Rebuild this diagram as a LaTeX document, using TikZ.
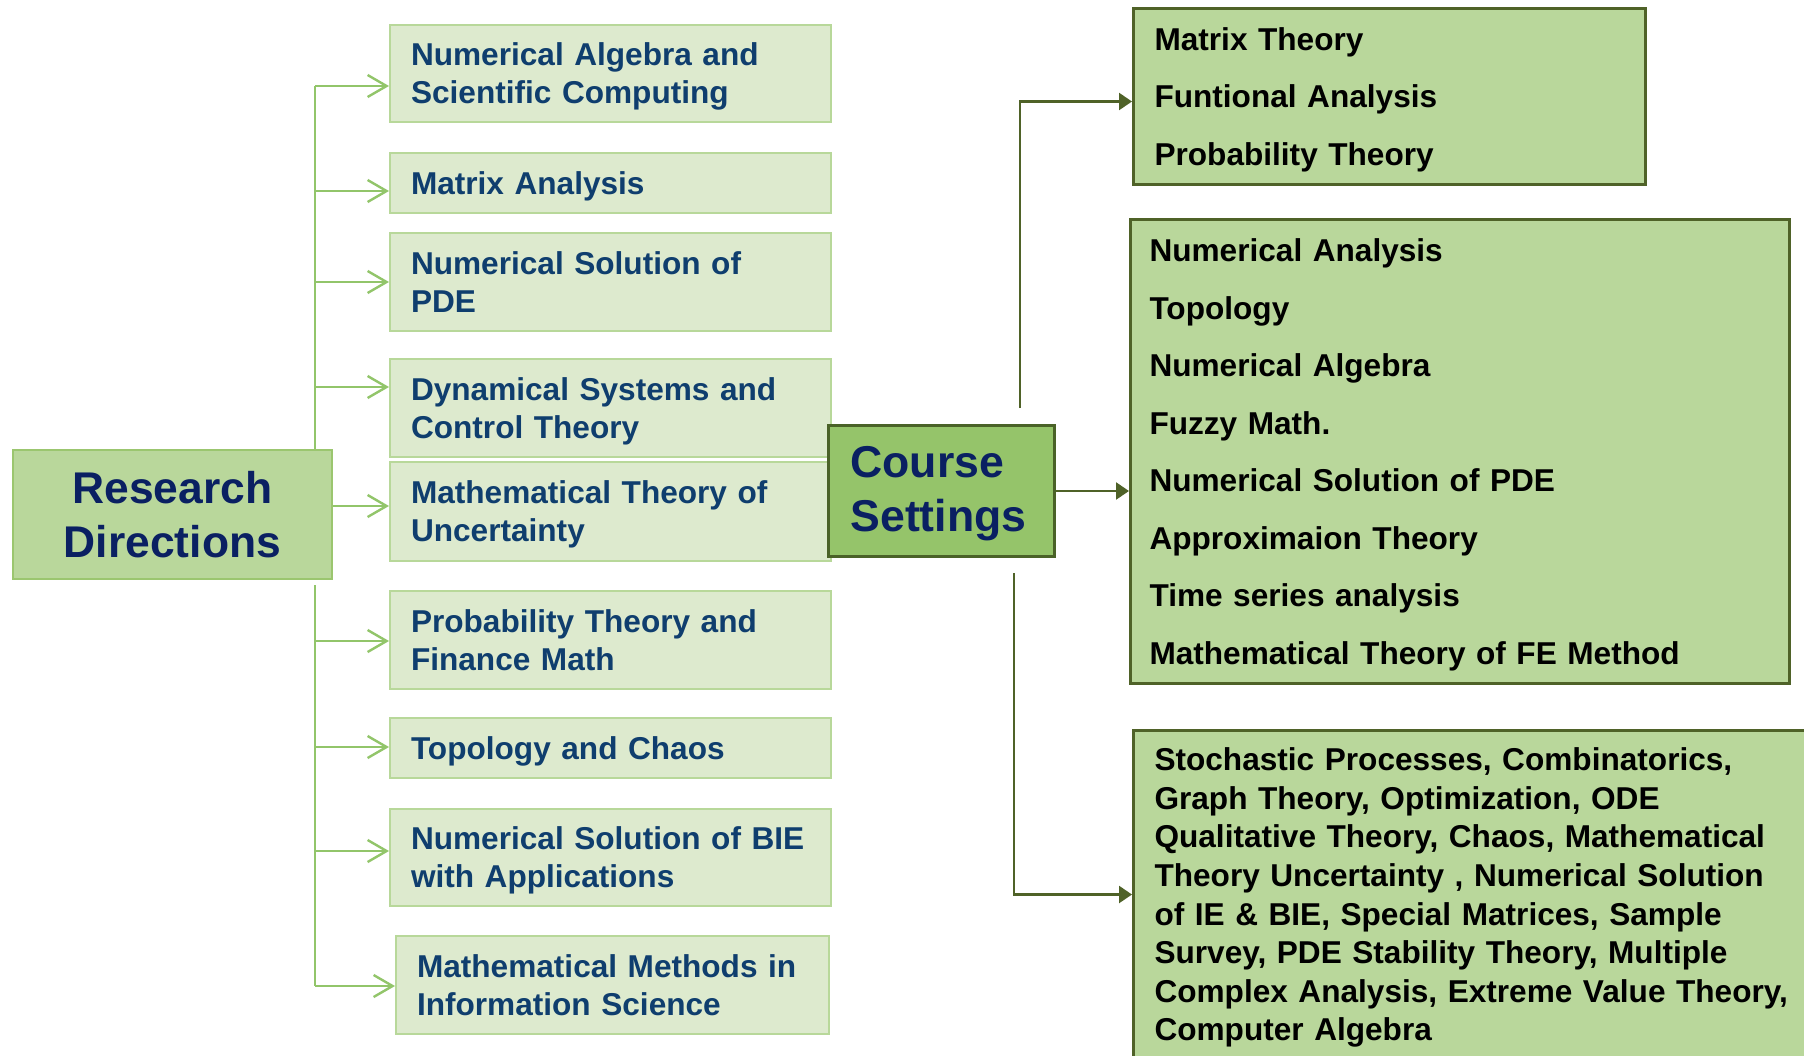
\documentclass[tikz,border=0pt]{standalone}
\usepackage{fontspec}
\setmainfont{Liberation Sans}
\usetikzlibrary{arrows.meta,calc}
\definecolor{lbfill}{HTML}{DDEACE}
\definecolor{lbdraw}{HTML}{B8D89A}
\definecolor{ltext}{HTML}{0F3E6E}
\definecolor{navy}{HTML}{0A2062}
\definecolor{rdfill}{HTML}{B9D79B}
\definecolor{rddraw}{HTML}{9BC66F}
\definecolor{csfill}{HTML}{95C46A}
\definecolor{csdraw}{HTML}{4A6228}
\definecolor{rfill}{HTML}{B9D79B}
\definecolor{rdraw}{HTML}{4F6228}
\definecolor{garrowc}{HTML}{92C56A}
\begin{document}
\begin{tikzpicture}[x=0.5pt,y=-0.5pt,
  struts/.style={execute at begin node={\rule{0pt}{14.8pt}}, execute at end node={\rule[-3.5pt]{0pt}{0pt}}},
  lbox/.style={draw=lbdraw, fill=lbfill, line width=1pt, anchor=north west, align=left,
    inner ysep=0pt, inner xsep=10.5pt, text width=199.5pt, text=ltext, struts,
    font=\fontsize{15.8}{19}\selectfont\bfseries},
  rdbox/.style={draw=rddraw, fill=rdfill, line width=1pt, anchor=north west, align=center,
    inner sep=0pt, minimum width=159.5pt, minimum height=64.5pt, text=navy,
    font=\fontsize{22.2}{27}\selectfont\bfseries},
  csbox/.style={draw=csdraw, fill=csfill, line width=1.5pt, anchor=north west, align=left,
    inner ysep=0pt, inner xsep=11pt, text width=91pt, minimum height=65.5pt, text=navy,
    execute at begin node={\rule{0pt}{18.5pt}}, execute at end node={\rule[-5pt]{0pt}{0pt}},
    font=\fontsize{22.3}{27}\selectfont\bfseries},
  rbox/.style={draw=rdraw, fill=rfill, line width=1.5pt, anchor=north west, align=left,
    inner ysep=0pt, text=black, struts},
  garrow/.style={draw=garrowc, line width=1.2pt, -{Straight Barb[length=9.5pt,width=11pt,line width=1.2pt]}},
  gline/.style={draw=garrowc, line width=1.1pt},
  darrow/.style={draw=rdraw, line width=1.2pt, -{Triangle[length=6.5pt,width=8.5pt]}}
]
\useasboundingbox (0,0) rectangle (1804,1055);
\clip (0,0) rectangle (1804,1055);

% Research directions
\node[rdbox] (rd) at (12,449) {Research\\Directions};

\node[lbox, minimum height=48.5pt] (b1) at (389,24) {Numerical Algebra and\\Scientific Computing};
\node[lbox, minimum height=30pt] (b2) at (389,152) {Matrix Analysis};
\node[lbox, minimum height=49pt] (b3) at (389,232) {Numerical Solution of\\PDE};
\node[lbox, minimum height=49pt] (b4) at (389,358) {Dynamical Systems and\\Control Theory};
\node[lbox, minimum height=49.5pt] (b5) at (389,461) {Mathematical Theory of\\Uncertainty};
\node[lbox, minimum height=49pt] (b6) at (389,590) {Probability Theory and\\Finance Math};
\node[lbox, minimum height=30pt] (b7) at (389,717) {Topology and Chaos};
\node[lbox, minimum height=48.5pt] (b8) at (389,808) {Numerical Solution of BIE\\with Applications};
\node[lbox, minimum height=49pt, text width=195.5pt] (b9) at (395,935) {Mathematical Methods in\\Information Science};

% trunk coordinates
\coordinate (s1) at (315,86);
\coordinate (s2) at (315,191);
\coordinate (s3) at (315,282);
\coordinate (s4) at (315,387);
\coordinate (s6) at (315,641);
\coordinate (s7) at (315,747);
\coordinate (s8) at (315,851);
\coordinate (s9) at (315,986);
\coordinate (tb) at (315,585);

\draw[gline] (s1) -- (s1 |- rd.north);
\draw[gline] (tb) -- (s9);
\draw[garrow] (s1) -- (s1 -| b1.west);
\draw[garrow] (s2) -- (s2 -| b2.west);
\draw[garrow] (s3) -- (s3 -| b3.west);
\draw[garrow] (s4) -- (s4 -| b4.west);
\draw[garrow] (rd.east |- 0,506) -- (b5.west |- 0,506);
\draw[garrow] (s6) -- (s6 -| b6.west);
\draw[garrow] (s7) -- (s7 -| b7.west);
\draw[garrow] (s8) -- (s8 -| b8.west);
\draw[garrow] (s9) -- (s9 -| b9.west);

% Course settings
\node[csbox] (cs) at (827,424) {Course\\Settings};

\node[rbox, inner xsep=10.5pt, text width=235pt, minimum height=88pt,
  font=\fontsize{15.8}{28.75}\selectfont\bfseries] (top) at (1132,7)
  {Matrix Theory\\Funtional Analysis\\Probability Theory};

\node[rbox, inner xsep=9.5pt, text width=310.5pt, minimum height=232pt,
  font=\fontsize{15.8}{28.75}\selectfont\bfseries] (mid) at (1129,218)
  {Numerical Analysis\\Topology\\Numerical Algebra\\Fuzzy Math.\\Numerical Solution of PDE\\Approximaion Theory\\Time series analysis\\Mathematical Theory of FE Method};

\node[rbox, inner xsep=10.5pt, text width=320pt, minimum height=164pt,
  font=\fontsize{15.8}{19.3}\selectfont\bfseries] (bot) at (1132,729)
  {Stochastic Processes, Combinatorics,\\Graph Theory, Optimization, ODE\\Qualitative Theory, Chaos, Mathematical\\Theory Uncertainty , Numerical Solution\\of IE \& BIE, Special Matrices, Sample\\Survey, PDE Stability Theory, Multiple\\Complex Analysis, Extreme Value Theory,\\Computer Algebra};

\coordinate (c1) at (1020,408);
\coordinate (c3) at (1014,573);
\draw[darrow] (c1) |- ($(top.west)+(0,5)$);
\draw[darrow] (cs.east) -- (cs.east -| mid.west);
\draw[darrow] (c3) |- (bot.west);
\end{tikzpicture}
\end{document}
